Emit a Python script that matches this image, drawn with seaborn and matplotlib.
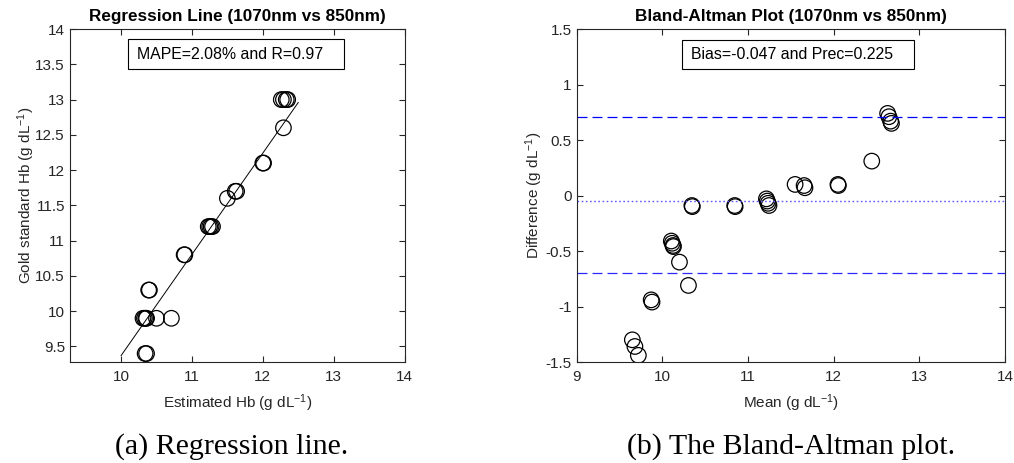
import numpy as np
import pandas as pd
import matplotlib
matplotlib.use("Agg")
import matplotlib.pyplot as plt
from matplotlib.patches import Rectangle
import seaborn as sns

# Haemoglobin readings: estimated (1070nm vs 850nm model) and gold standard, g/dL
estimated = [10.30, 10.36, 10.44,
             10.34, 10.36,
             10.31, 10.33, 10.35, 10.36,
             10.50, 10.71,
             10.39, 10.40,
             10.89, 10.90,
             11.23, 11.25, 11.27, 11.29,
             11.50,
             11.61, 11.63,
             12.00, 12.01,
             12.29,
             12.26, 12.29, 12.33, 12.35]
gold = [9.0, 9.0, 9.0,
        9.4, 9.4,
        9.9, 9.9, 9.9, 9.9,
        9.9, 9.9,
        10.3, 10.3,
        10.8, 10.8,
        11.2, 11.2, 11.2, 11.2,
        11.6,
        11.7, 11.7,
        12.1, 12.1,
        12.6,
        13.0, 13.0, 13.0, 13.0]

# Fitted regression line end points
fit_x = [10.0, 12.5]
fit_y = [9.37, 12.96]

# Bland-Altman statistics
bias = -0.047
loa_upper = 0.705
loa_lower = -0.70
mape_text = "MAPE=2.08% and R=0.97"
ba_text = "Bias=-0.047 and Prec=0.225"

# Tick values
reg_xticks = [10, 11, 12, 13, 14]
reg_yticks = [9.5, 10, 10.5, 11, 11.5, 12, 12.5, 13, 13.5, 14]
ba_xticks = [9, 10, 11, 12, 13, 14]
ba_yticks = [-1.5, -1, -0.5, 0, 0.5, 1, 1.5]

df = pd.DataFrame({"est": estimated, "gold": gold})
df["mean"] = (df["est"] + df["gold"]) / 2
df["diff"] = df["gold"] - df["est"]

sns.set_theme(style="white")
ink = "#262626"
plt.rcParams.update({
    "font.family": ["Liberation Sans", "DejaVu Sans"],
    "mathtext.fontset": "custom",
    "mathtext.rm": "Liberation Sans",
    "mathtext.default": "regular",
    "axes.unicode_minus": False,
    "axes.edgecolor": ink,
    "axes.linewidth": 0.8,
    "text.color": ink,
    "axes.labelcolor": ink,
    "xtick.color": ink,
    "ytick.color": ink,
})

fig = plt.figure(figsize=(10.14, 4.63), dpi=100)
ax1 = fig.add_axes([0.0690, 0.2181, 0.3301, 0.7192])
ax2 = fig.add_axes([0.5687, 0.2181, 0.4224, 0.7192])

marker_kw = dict(marker="o", s=125, facecolor="none", edgecolor="black",
                 linewidth=0.9, legend=False)

# (a) regression
sns.lineplot(x=fit_x, y=fit_y, ax=ax1, color="black", linewidth=0.7)
sns.scatterplot(data=df, x="est", y="gold", ax=ax1, **marker_kw)
ax1.set_xlim(9.28, 14)
ax1.set_ylim(9.28, 14)
ax1.set_xticks(reg_xticks)
ax1.set_xticklabels([f"{v:g}" for v in reg_xticks])
ax1.set_yticks(reg_yticks)
ax1.set_yticklabels([f"{v:g}" for v in reg_yticks])
ax1.set_xlabel("Estimated Hb (g dL$^{-1}$)", fontsize=11, labelpad=6)
ax1.set_ylabel("Gold standard Hb (g dL$^{-1}$)", fontsize=11, labelpad=-1)
ax1.set_title("Regression Line (1070nm vs 850nm)", fontsize=12.3,
              fontweight="bold", pad=6, color="black")
ax1.add_patch(Rectangle((0.174, 0.880), 0.6455, 0.089, transform=ax1.transAxes,
                        fill=False, edgecolor="black", linewidth=0.8))
ax1.text(0.201, 0.9245, mape_text, transform=ax1.transAxes, fontsize=11.4,
         ha="left", va="center", color="black")

# (b) Bland-Altman
ax2.axhline(loa_upper, color="#0000ff", linestyle=(0, (8, 4)), linewidth=0.9)
ax2.axhline(bias, color="#5c5cff", linestyle=(0, (1.2, 1.8)), linewidth=1.0)
ax2.axhline(loa_lower, color="#2a2aff", linestyle=(0, (8, 4)), linewidth=0.9)
sns.scatterplot(data=df, x="mean", y="diff", ax=ax2, **marker_kw)
ax2.set_xlim(9, 14)
ax2.set_ylim(-1.5, 1.5)
ax2.set_xticks(ba_xticks)
ax2.set_xticklabels([f"{v:g}" for v in ba_xticks])
ax2.set_yticks(ba_yticks)
ax2.set_yticklabels([f"{v:g}" for v in ba_yticks])
ax2.set_xlabel("Mean (g dL$^{-1}$)", fontsize=11, labelpad=6)
ax2.set_ylabel("Difference (g dL$^{-1}$)", fontsize=11, labelpad=0.5)
ax2.set_title("Bland-Altman Plot (1070nm vs 850nm)", fontsize=12.3,
              fontweight="bold", pad=6, color="black")
ax2.add_patch(Rectangle((0.245, 0.880), 0.5425, 0.087, transform=ax2.transAxes,
                        fill=False, edgecolor="black", linewidth=0.8))
ax2.text(0.2669, 0.9235, ba_text, transform=ax2.transAxes, fontsize=11.4,
         ha="left", va="center", color="black")

for ax in (ax1, ax2):
    for side in ("top", "right", "bottom", "left"):
        ax.spines[side].set_visible(True)
    ax.tick_params(direction="in", length=4, width=0.8, labelsize=11,
                   top=True, right=True, bottom=True, left=True)
    ax.tick_params(axis="x", pad=6)
    ax.tick_params(axis="y", pad=3.6)

fig.text(0.2283, 0.0345, "(a) Regression line.", ha="center", va="center",
         fontsize=21.5, family="Liberation Serif", color="black")
fig.text(0.780, 0.0345, "(b) The Bland-Altman plot.", ha="center", va="center",
         fontsize=21.5, family="Liberation Serif", color="black")

fig.savefig("out.png", dpi=100)
